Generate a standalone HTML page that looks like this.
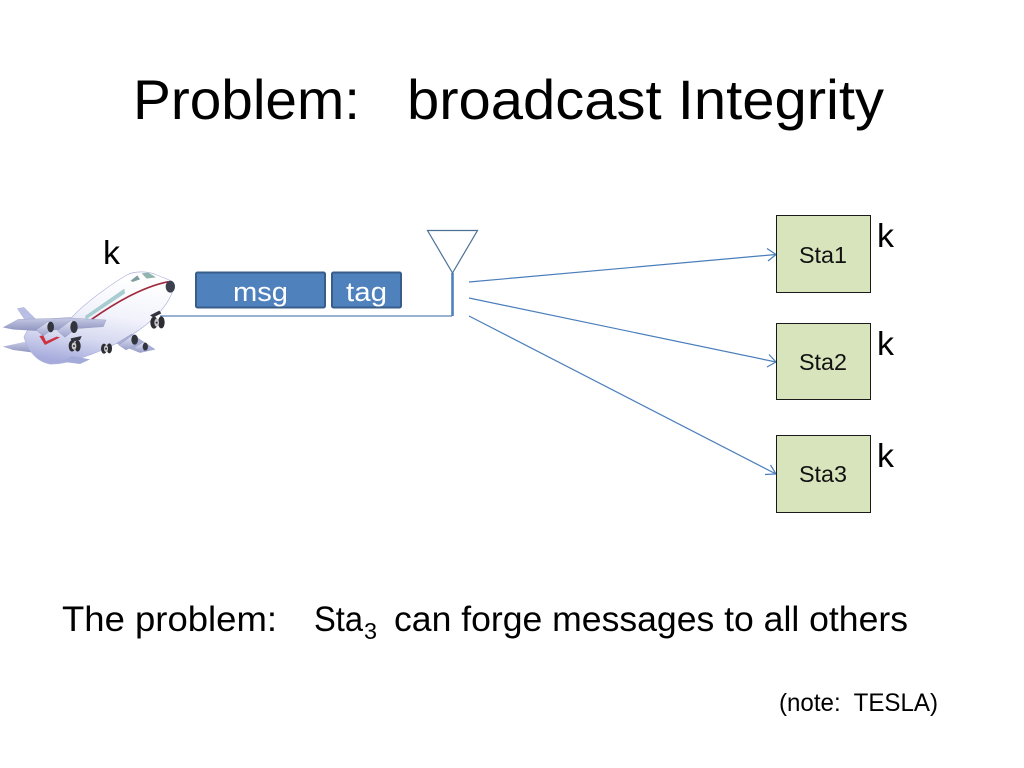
<!DOCTYPE html>
<html>
<head>
<meta charset="utf-8">
<style>
html,body{margin:0;padding:0;background:#fff;}
svg{display:block;}
text{font-family:"Liberation Sans",sans-serif;white-space:pre;}
</style>
</head>
<body>
<svg width="1024" height="768" viewBox="0 0 1024 768" xmlns="http://www.w3.org/2000/svg">
<defs>
<linearGradient id="bodyG" x1="0.62" y1="0.05" x2="0.38" y2="1">
<stop offset="0" stop-color="#ffffff"/>
<stop offset="0.42" stop-color="#f2f3fb"/>
<stop offset="0.72" stop-color="#d6d9f0"/>
<stop offset="1" stop-color="#a6abdc"/>
</linearGradient>
<linearGradient id="wingG" x1="0" y1="0" x2="0" y2="1">
<stop offset="0" stop-color="#c6cae6"/>
<stop offset="1" stop-color="#8f95c0"/>
</linearGradient>
<linearGradient id="nacG" x1="0" y1="0" x2="0" y2="1">
<stop offset="0" stop-color="#e4e6f4"/>
<stop offset="1" stop-color="#9da2cc"/>
</linearGradient>
<filter id="sh" x="-20%" y="-20%" width="140%" height="140%">
<feGaussianBlur stdDeviation="1.2"/>
</filter>
<filter id="soft" x="-5%" y="-5%" width="110%" height="110%">
<feGaussianBlur stdDeviation="0.8"/>
</filter>
</defs>

<text x="133" y="119" font-size="56" fill="#000" textLength="227" lengthAdjust="spacingAndGlyphs">Problem:</text>
<text x="407" y="119" font-size="56" fill="#000" textLength="477" lengthAdjust="spacingAndGlyphs">broadcast Integrity</text>

<text x="103" y="264" font-size="33" fill="#000" textLength="17" lengthAdjust="spacingAndGlyphs">k</text>
<text x="877" y="247" font-size="33" fill="#000" textLength="17" lengthAdjust="spacingAndGlyphs">k</text>
<text x="877" y="355" font-size="33" fill="#000" textLength="17" lengthAdjust="spacingAndGlyphs">k</text>
<text x="877" y="467" font-size="33" fill="#000" textLength="17" lengthAdjust="spacingAndGlyphs">k</text>

<!-- wire -->
<line x1="160" y1="316" x2="452" y2="316" stroke="#5a83b5" stroke-width="1.3"/>
<line x1="454" y1="274" x2="454" y2="319" stroke="#aebfd8" stroke-width="4" filter="url(#sh)"/>
<line x1="452.500" y1="273" x2="452.500" y2="316" stroke="#4f81bd" stroke-width="2.6"/>
<path d="M427.500 230.500 H477.500 L452.500 273 Z" fill="#fff" stroke="#4a7097" stroke-width="1.200"/>

<!-- msg / tag -->
<rect x="196" y="272.500" width="129" height="35" rx="1.500" fill="#4f81bd" stroke="#385d8a" stroke-width="2"/>
<rect x="332" y="272.500" width="69" height="35" rx="1.500" fill="#4f81bd" stroke="#385d8a" stroke-width="2"/>
<text x="233" y="301" font-size="27" fill="#fff" textLength="55" lengthAdjust="spacingAndGlyphs">msg</text>
<text x="346" y="301" font-size="27" fill="#fff" textLength="41" lengthAdjust="spacingAndGlyphs">tag</text>

<!-- arrows -->
<g stroke="#4a7ebb" stroke-width="1.200" fill="none">
<line x1="469" y1="282" x2="776" y2="254.500"/>
<path d="M767 248.500 L776 254.500 L768 261"/>
<line x1="469" y1="298" x2="776" y2="362"/>
<path d="M769 354.500 L776 362 L767 367"/>
<line x1="469" y1="316" x2="776" y2="474"/>
<path d="M770.500 465 L776 474 L765 474.500"/>
</g>

<!-- stations -->
<g fill="#d7e4bc" stroke="#1a1a1a" stroke-width="1">
<rect x="776.500" y="215.500" width="94" height="77"/>
<rect x="776.500" y="323.500" width="94" height="76"/>
<rect x="776.500" y="435.500" width="94" height="77"/>
</g>
<text x="799" y="263" font-size="23" fill="#111" textLength="48" lengthAdjust="spacingAndGlyphs">Sta1</text>
<text x="799" y="370" font-size="23" fill="#111" textLength="48" lengthAdjust="spacingAndGlyphs">Sta2</text>
<text x="799" y="482" font-size="23" fill="#111" textLength="48" lengthAdjust="spacingAndGlyphs">Sta3</text>

<!-- bottom text -->
<text x="62" y="631" font-size="35" fill="#000" textLength="215" lengthAdjust="spacingAndGlyphs">The problem:</text>
<text x="314" y="631" font-size="35" fill="#000" textLength="49" lengthAdjust="spacingAndGlyphs">Sta</text>
<text x="364" y="639" font-size="23" fill="#000" textLength="13" lengthAdjust="spacingAndGlyphs">3</text>
<text x="394" y="631" font-size="35" fill="#000" textLength="514" lengthAdjust="spacingAndGlyphs">can forge messages to all others</text>
<text x="779" y="711" font-size="25" fill="#000" textLength="159" lengthAdjust="spacingAndGlyphs">(note:  TESLA)</text>

<!-- airplane (coordinates in 3x crop space) -->
<g transform="translate(0,230) scale(0.33333)" filter="url(#soft)">
<!-- tail fin -->
<path d="M52 236 L72 232 L108 268 L85 285 Z" fill="#b9bfe4" stroke="#9ca2cf" stroke-width="1"/>
<!-- rear lower stabilizer -->
<path d="M8 350 L72 336 L125 345 L100 368 L40 360 Z" fill="url(#wingG)"/>
<!-- fuselage -->
<path d="M522 170 C522 150 500 148 470 135 C445 123 405 122 380 135 C330 165 260 215 215 262 L100 270 L72 320 C78 350 105 395 150 402 C200 405 290 370 360 335 C430 298 505 240 522 170 Z" fill="url(#bodyG)" stroke="#aeb3dc" stroke-width="2"/>
<!-- bottom fin -->
<path d="M215 378 L270 388 L240 402 L185 395 Z" fill="#a5abd8"/>
<!-- window band -->
<path d="M255 258 L373 176 L375 190 L258 268 Z" fill="#a8cdd0"/>
<!-- cockpit -->
<path d="M392 152 L412 136 L420 148 L398 156 Z" fill="#7f9f9e"/>
<path d="M425 130 L445 128 L468 142 L440 146 Z" fill="#8fb5ad"/>
<!-- red stripe -->
<path d="M275 268 C350 215 430 170 505 155" fill="none" stroke="#a02a3c" stroke-width="5"/>
<!-- nose -->
<ellipse cx="511" cy="170" rx="14" ry="18" fill="#3c3f4e"/>
<!-- red tail mark -->
<path d="M118 318 L135 345 L180 322 L170 320 L138 334 L130 316 Z" fill="#cc3040"/>
<!-- near wing -->
<path d="M10 292 L55 268 L210 264 L318 270 L310 290 L200 298 L110 302 L40 298 Z" fill="url(#wingG)" stroke="#8a90b8" stroke-width="1"/>
<!-- right wing -->
<path d="M350 340 L395 312 L465 358 L420 368 Z" fill="#a9aed8" stroke="#8a90b8" stroke-width="1"/>
<!-- engines -->
<g fill="url(#nacG)" stroke="#8a90b8" stroke-width="1">
<path d="M108 300 L145 274 L160 295 L130 318 Z"/>
<path d="M172 302 L215 270 L232 292 L195 322 Z"/>
<path d="M356 345 L400 314 L412 342 L378 360 Z"/>
<path d="M403 352 L432 336 L442 356 L418 366 Z"/>
</g>
<g fill="#33343d">
<ellipse cx="152" cy="291" rx="10" ry="16"/>
<ellipse cx="222" cy="291" rx="11" ry="18"/>
<ellipse cx="404" cy="329" rx="10" ry="15"/>
<ellipse cx="436" cy="350" rx="8" ry="12"/>
</g>
<!-- wheels -->
<path d="M212 325 L245 318 L240 330 L215 336 Z" fill="#33343d"/>
<g fill="#2d2d33">
<ellipse cx="216" cy="348" rx="10" ry="17"/>
<ellipse cx="233" cy="348" rx="9" ry="17"/>
<ellipse cx="312" cy="356" rx="9" ry="15"/>
<ellipse cx="328" cy="355" rx="8" ry="15"/>
<ellipse cx="462" cy="278" rx="11" ry="18"/>
<ellipse cx="484" cy="277" rx="10" ry="18"/>
</g>
<g fill="#c9c9d0">
<ellipse cx="222" cy="348" rx="7" ry="11"/>
<ellipse cx="318" cy="356" rx="6" ry="10"/>
<ellipse cx="470" cy="278" rx="7" ry="12"/>
</g>
<g fill="#2d2d33">
<circle cx="222" cy="348" r="3"/>
<circle cx="318" cy="356" r="3"/>
<circle cx="470" cy="278" r="3"/>
</g>
<path d="M450 256 L478 242 L484 250 L460 262 Z" fill="#33343d"/>
</g>
</svg>
</body>
</html>
